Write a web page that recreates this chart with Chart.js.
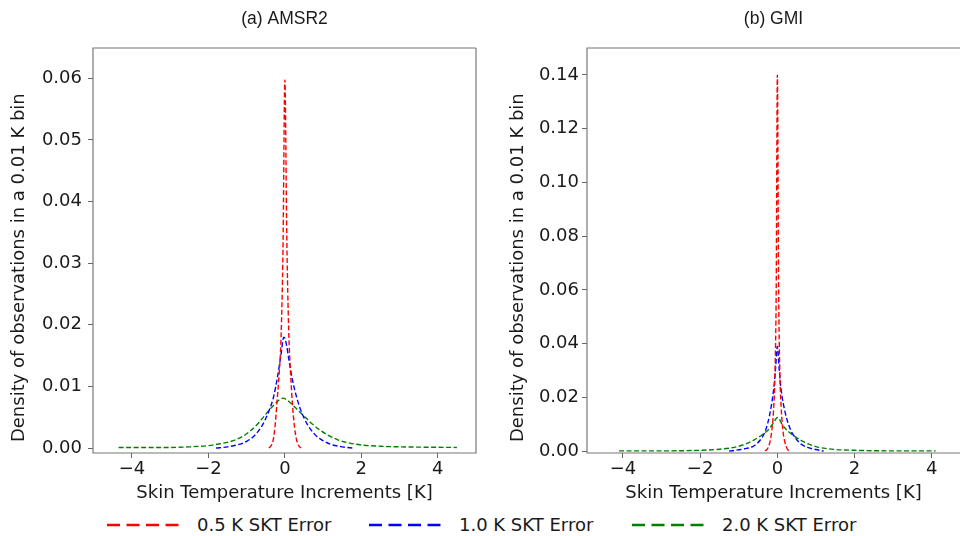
<!DOCTYPE html>
<html>
<head>
<meta charset="utf-8">
<script src="https://cdn.jsdelivr.net/npm/chart.js"></script>
<style>
  body { margin: 0; width: 960px; height: 536px; overflow: hidden; background: #fff; position: relative; }
  .panel { position: absolute; top: 0; width: 480px; height: 505px; }
  #panelA { left: 0; }
  #panelB { left: 480px; }
  #legend { position: absolute; top: 512px; left: 0; width: 960px; height: 26px;
            font-family: 'DejaVu Sans', sans-serif; font-size: 18px; color: #1a1a1a; }
  .item { position: absolute; top: 0; white-space: nowrap; line-height: 26px; }
  .item svg { position: absolute; top: 11px; }
</style>
</head>
<body>
<div class="panel" id="panelA"><canvas id="chartA" width="480" height="505"></canvas></div>
<div class="panel" id="panelB"><canvas id="chartB" width="480" height="505"></canvas></div>
<div id="legend"></div>
<script>
// series names and colours
const seriesNames = ['0.5 K SKT Error', '1.0 K SKT Error', '2.0 K SKT Error'];
const seriesColors = ['#ff0000', '#0000ff', '#008000'];

// (a) AMSR2 - increments [K]
const amsrRedX = [-0.42, -0.35, -0.3, -0.25, -0.2, -0.15, -0.1, -0.05, 0, 0.05, 0.1, 0.15, 0.2, 0.25, 0.3, 0.35, 0.42];
const amsrRedY = [0, 0.0005, 0.0015, 0.004, 0.008, 0.012, 0.018, 0.032, 0.0597, 0.034, 0.019, 0.012, 0.007, 0.0035, 0.0015, 0.0005, 0];

const amsrBlueX = [-1.8, -1.5, -1.2, -1.0, -0.8, -0.6, -0.5, -0.4, -0.3, -0.2, -0.1, -0.03, 0, 0.05, 0.1, 0.2, 0.3, 0.4, 0.5, 0.6, 0.8, 1.0, 1.2, 1.5, 1.8];
const amsrBlueY = [0, 0.0002, 0.0006, 0.0011, 0.002, 0.0036, 0.0048, 0.0063, 0.0082, 0.0113, 0.0152, 0.018, 0.0178, 0.0165, 0.0145, 0.011, 0.0084, 0.0064, 0.0049, 0.0037, 0.0021, 0.0012, 0.0006, 0.0002, 0];

const amsrGreenX = [-4.35, -3, -2.5, -2, -1.7, -1.4, -1.1, -0.9, -0.7, -0.5, -0.3, -0.15, -0.05, 0.05, 0.15, 0.3, 0.5, 0.7, 0.9, 1.1, 1.4, 1.7, 2.0, 2.5, 3, 4.5];
const amsrGreenY = [0.0001, 0.0001, 0.0002, 0.0004, 0.0007, 0.0011, 0.0019, 0.0028, 0.004, 0.0055, 0.0069, 0.0078, 0.0081, 0.0078, 0.0073, 0.0064, 0.0052, 0.004, 0.003, 0.0022, 0.0013, 0.0008, 0.0005, 0.0003, 0.0002, 0.0001];

// (b) GMI
const gmiRedX = [-0.32, -0.25, -0.2, -0.15, -0.1, -0.06, -0.03, 0, 0.03, 0.06, 0.1, 0.15, 0.2, 0.25, 0.3];
const gmiRedY = [0, 0.001, 0.003, 0.007, 0.015, 0.03, 0.06, 0.14, 0.065, 0.032, 0.016, 0.007, 0.003, 0.001, 0];

const gmiBlueX = [-1.25, -1.0, -0.8, -0.6, -0.4, -0.3, -0.2, -0.1, -0.05, 0, 0.05, 0.1, 0.2, 0.3, 0.4, 0.6, 0.8, 1.0, 1.2];
const gmiBlueY = [0, 0.0005, 0.001, 0.002, 0.005, 0.008, 0.0135, 0.0225, 0.03, 0.039, 0.03, 0.0225, 0.0145, 0.0095, 0.0063, 0.0028, 0.0013, 0.0006, 0];

const gmiGreenX = [-4.1, -3, -2, -1.5, -1.2, -1.0, -0.8, -0.6, -0.4, -0.2, -0.1, 0, 0.05, 0.1, 0.2, 0.4, 0.6, 0.8, 1.0, 1.2, 1.5, 2, 3, 4.1];
const gmiGreenY = [0.0001, 0.0001, 0.0003, 0.0007, 0.0012, 0.0018, 0.0028, 0.0042, 0.006, 0.0085, 0.0105, 0.0125, 0.012, 0.0105, 0.0085, 0.006, 0.0041, 0.0027, 0.0017, 0.0011, 0.0006, 0.0003, 0.0001, 0.0001];

// tick labels
const xTicks = [-4, -2, 0, 2, 4];
const amsrYTicks = [0, 0.01, 0.02, 0.03, 0.04, 0.05, 0.06];
const gmiYTicks = [0, 0.02, 0.04, 0.06, 0.08, 0.10, 0.12, 0.14];

const xTitle = 'Skin Temperature Increments [K]';
const yTitle = 'Density of observations in a 0.01 K bin';

const tickFont = { family: 'DejaVu Sans', size: 18 };
const textColor = '#1a1a1a';

function pts(xs, ys) {
    return xs.map((x, i) => ({ x, y: ys[i] }));
}

function makeDataset(i, xs, ys) {
    return {
        label: seriesNames[i],
        data: pts(xs, ys),
        borderColor: seriesColors[i],
        borderWidth: 1.4,
        borderDash: [5, 2.5],
        pointRadius: 0,
        cubicInterpolationMode: 'monotone',
        fill: false
    };
}

// box around the plot area (right side optional: panel b runs off the page)
const framePlugin = {
    id: 'frame',
    afterDatasetsDraw(chart, args, opts) {
        const { ctx, chartArea: a } = chart;
        ctx.save();
        ctx.strokeStyle = '#777';
        ctx.lineWidth = 1.2;
        ctx.beginPath();
        ctx.moveTo(a.right, a.top);
        ctx.lineTo(a.left, a.top);
        ctx.lineTo(a.left, a.bottom);
        ctx.lineTo(a.right, a.bottom);
        if (opts.right !== false) ctx.lineTo(a.right, a.top);
        ctx.stroke();
        ctx.restore();
    }
};

function makeChart(id, cfg) {
    return new Chart(document.getElementById(id), {
        type: 'line',
        data: { datasets: cfg.datasets },
        plugins: [framePlugin],
        options: {
            responsive: false,
            animation: false,
            devicePixelRatio: 1,
            layout: { padding: { left: 0, right: cfg.padRight, top: 0, bottom: 0 } },
            plugins: {
                legend: { display: false },
                tooltip: { enabled: false },
                frame: { right: cfg.rightBorder },
                title: {
                    display: true,
                    text: cfg.title,
                    fullSize: false,
                    color: textColor,
                    font: { family: 'Liberation Sans', size: 17.5, weight: 'normal' },
                    padding: { top: 9, bottom: 18 }
                }
            },
            scales: {
                x: {
                    type: 'linear',
                    min: cfg.xMin,
                    max: cfg.xMax,
                    border: { display: false },
                    grid: { drawOnChartArea: false, drawTicks: true, tickLength: 5, color: '#666' },
                    ticks: {
                        font: tickFont,
                        color: textColor,
                        padding: 1,
                        maxRotation: 0,
                        callback: v => v < 0 ? '\u2212' + Math.abs(v) : String(v)
                    },
                    afterBuildTicks: s => { s.ticks = xTicks.map(v => ({ value: v })); },
                    afterFit: s => { s.height = 52; },
                    title: {
                        display: true,
                        text: xTitle,
                        color: textColor,
                        font: tickFont,
                        padding: { top: 0, bottom: 1 }
                    }
                },
                y: {
                    type: 'linear',
                    min: cfg.yMin,
                    max: cfg.yMax,
                    border: { display: false },
                    grid: { drawOnChartArea: false, drawTicks: true, tickLength: 5, color: '#666' },
                    ticks: {
                        font: tickFont,
                        color: textColor,
                        padding: cfg.yTickPad,
                        callback: v => v.toFixed(2)
                    },
                    afterBuildTicks: s => { s.ticks = cfg.yTicks.map(v => ({ value: v })); },
                    afterFit: s => { s.width = cfg.yWidth; },
                    title: {
                        display: true,
                        // trailing spaces nudge the rotated label down a bit
                        text: yTitle + '      ',
                        color: textColor,
                        font: tickFont,
                        padding: { top: cfg.yTitlePad, bottom: 0 }
                    }
                }
            }
        }
    });
}

makeChart('chartA', {
    title: '(a) AMSR2',
    datasets: [
        makeDataset(0, amsrRedX, amsrRedY),
        makeDataset(1, amsrBlueX, amsrBlueY),
        makeDataset(2, amsrGreenX, amsrGreenY)
    ],
    xMin: -5.02, xMax: 5.0,
    yMin: -0.0008, yMax: 0.0649,
    yTicks: amsrYTicks,
    yWidth: 93, yTickPad: 6, yTitlePad: 9,
    padRight: 4, rightBorder: true
});

// panel b is cut by the page edge; its visible x range ends near 4.73 K
makeChart('chartB', {
    title: '(b) GMI',
    datasets: [
        makeDataset(0, gmiRedX, gmiRedY),
        makeDataset(1, gmiBlueX, gmiBlueY),
        makeDataset(2, gmiGreenX, gmiGreenY)
    ],
    xMin: -4.93, xMax: 4.73,
    yMin: -0.0007, yMax: 0.1500,
    yTicks: gmiYTicks,
    yWidth: 107, yTickPad: 3, yTitlePad: 28,
    padRight: 0, rightBorder: false
});

// legend below both panels
const legendX = [107, 369, 632];
const legend = document.getElementById('legend');
seriesNames.forEach((name, i) => {
    const item = document.createElement('div');
    item.className = 'item';
    item.style.left = legendX[i] + 'px';
    item.innerHTML =
        '<svg width="72" height="4"><line x1="0" y1="2" x2="72" y2="2" stroke="' + seriesColors[i] +
        '" stroke-width="2.6" stroke-dasharray="13 6.5"/></svg>' +
        '<span style="margin-left:90px">' + name + '</span>';
    legend.appendChild(item);
});
</script>
</body>
</html>
